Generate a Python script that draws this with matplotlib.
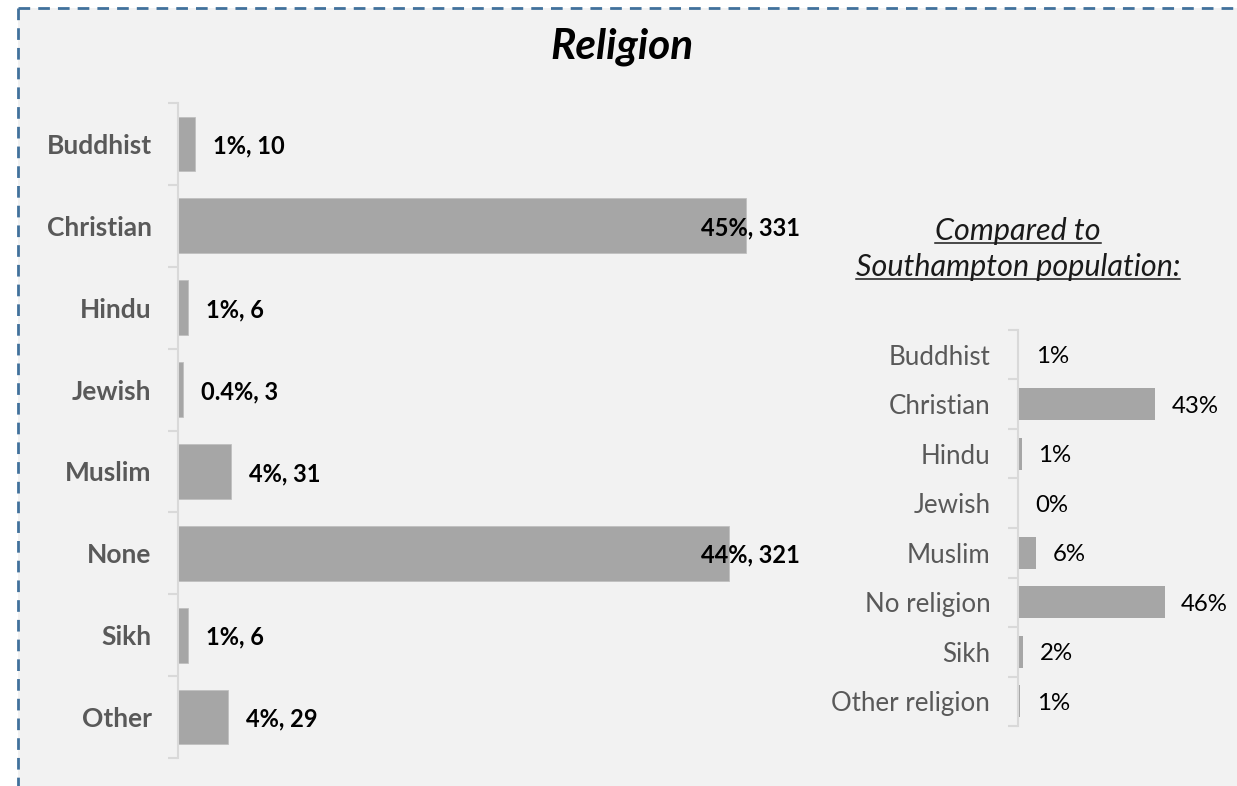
import matplotlib
matplotlib.use("Agg")
import matplotlib.pyplot as plt
from matplotlib.patches import Rectangle
from matplotlib.lines import Line2D
import numpy as np

# ---- data ----
left_categories = ["Buddhist", "Christian", "Hindu", "Jewish", "Muslim", "None", "Sikh", "Other"]
left_counts = [10, 331, 6, 3, 31, 321, 6, 29]
left_pct_labels = ["1%", "45%", "1%", "0.4%", "4%", "44%", "1%", "4%"]

right_categories = ["Buddhist", "Christian", "Hindu", "Jewish", "Muslim", "No religion", "Sikh", "Other religion"]
right_pct = [0.3, 43, 1.2, 0.05, 5.8, 46, 1.6, 0.6]
right_labels = ["1%", "43%", "1%", "0%", "6%", "46%", "2%", "1%"]

title = "Religion"
subtitle_lines = ["Compared to", "Southampton population:"]

# ---- figure ----
W, H = 1237, 786
DPI = 100
fig = plt.figure(figsize=(W / DPI, H / DPI), dpi=DPI)
fig.patch.set_facecolor("white")

FONT = "Lato"
BAR = "#a6a6a6"
AXC = "#d9d9d9"
LABC = "#595959"


def fx(px):
    return px / W


def fy(py):
    return 1 - py / H


# background panel + dashed border
fig.patches.append(Rectangle((fx(18), 0), 1 - fx(18), fy(7.5), transform=fig.transFigure,
                             facecolor="#f2f2f2", edgecolor="none", zorder=-10))
border_kw = dict(transform=fig.transFigure, color="#41719c", linewidth=2.0,
                 linestyle=(0, (4.2, 2.9)), zorder=-5)
fig.lines.append(Line2D([fx(18), 1.0], [fy(7.5), fy(7.5)], **border_kw))
fig.lines.append(Line2D([fx(18), fx(18)], [fy(7.5), 0], **border_kw))


def style_axis(ax, n, pad):
    ax.set_facecolor("none")
    for s in ["top", "right", "bottom"]:
        ax.spines[s].set_visible(False)
    ax.spines["left"].set_color(AXC)
    ax.spines["left"].set_linewidth(1.5)
    ax.set_xticks([])
    ax.set_yticks(np.arange(n))
    ax.set_yticks(np.arange(n + 1) - 0.5, minor=True)
    ax.tick_params(axis="y", which="major", length=0, pad=pad)
    ax.tick_params(axis="y", which="minor", length=7, width=1.5, color=AXC, direction="out")
    ax.set_ylim(n - 0.5, -0.5)


# ---- left chart ----
axL = fig.add_axes([fx(178), fy(758), fx(800) - fx(178), fy(103) - fy(758)])
yL = np.arange(len(left_categories))
axL.barh(yL, left_counts, height=0.67, color=BAR, edgecolor="#bdbdbd", linewidth=0.5)
xmaxL = (800 - 178) / ((746 - 178) / 331)
axL.set_xlim(0, xmaxL)
style_axis(axL, len(left_categories), 19)
axL.set_yticklabels(left_categories, fontfamily=FONT, fontsize=19, fontweight="bold", color=LABC)
for y, c, p in zip(yL, left_counts, left_pct_labels):
    txt = f"{p}, {c}"
    if c / xmaxL > 0.75:
        axL.text(1.0, y, txt, transform=axL.get_yaxis_transform(), ha="right",
                 va="center_baseline", fontfamily=FONT, fontsize=17, fontweight="bold",
                 color="black")
    else:
        axL.annotate(txt, (c, y), xytext=(13, 0), textcoords="offset points", ha="left",
                     va="center_baseline", fontfamily=FONT, fontsize=17, fontweight="bold",
                     color="black")

# ---- right chart ----
axR = fig.add_axes([fx(1018), fy(726), fx(1230) - fx(1018), fy(330) - fy(726)])
yR = np.arange(len(right_categories))
axR.barh(yR, right_pct, height=0.65, color=BAR, edgecolor="none")
axR.set_xlim(0, (1230 - 1018) / ((1155 - 1018) / 43))
style_axis(axR, len(right_categories), 20)
axR.set_yticklabels(right_categories, fontfamily=FONT, fontsize=18.6, color=LABC)
for y, v, lab in zip(yR, right_pct, right_labels):
    axR.annotate(lab, (v, y), xytext=(12, 0), textcoords="offset points", ha="left",
                 va="center_baseline", fontfamily=FONT, fontsize=17.3, color="black")

# ---- titles ----
fig.text(fx(622), fy(47), title, ha="center", va="center", fontfamily=FONT,
         fontsize=30.5, fontweight="bold", fontstyle="italic", color="black")

sub_texts = []
for line, base in zip(subtitle_lines, [240, 276]):
    t = fig.text(fx(1018), fy(base), line, ha="center", va="baseline", fontfamily=FONT,
                 fontsize=22, fontstyle="italic", color="#1a1a1a")
    sub_texts.append((t, base))

fig.canvas.draw()
renderer = fig.canvas.get_renderer()
for t, base in sub_texts:
    bb = t.get_window_extent(renderer)
    uy = fy(base + 3)
    fig.lines.append(Line2D([bb.x0 / W, bb.x1 / W], [uy, uy], transform=fig.transFigure,
                            color="#1a1a1a", linewidth=1.1))

fig.savefig("out.png", dpi=DPI, facecolor=fig.get_facecolor())
